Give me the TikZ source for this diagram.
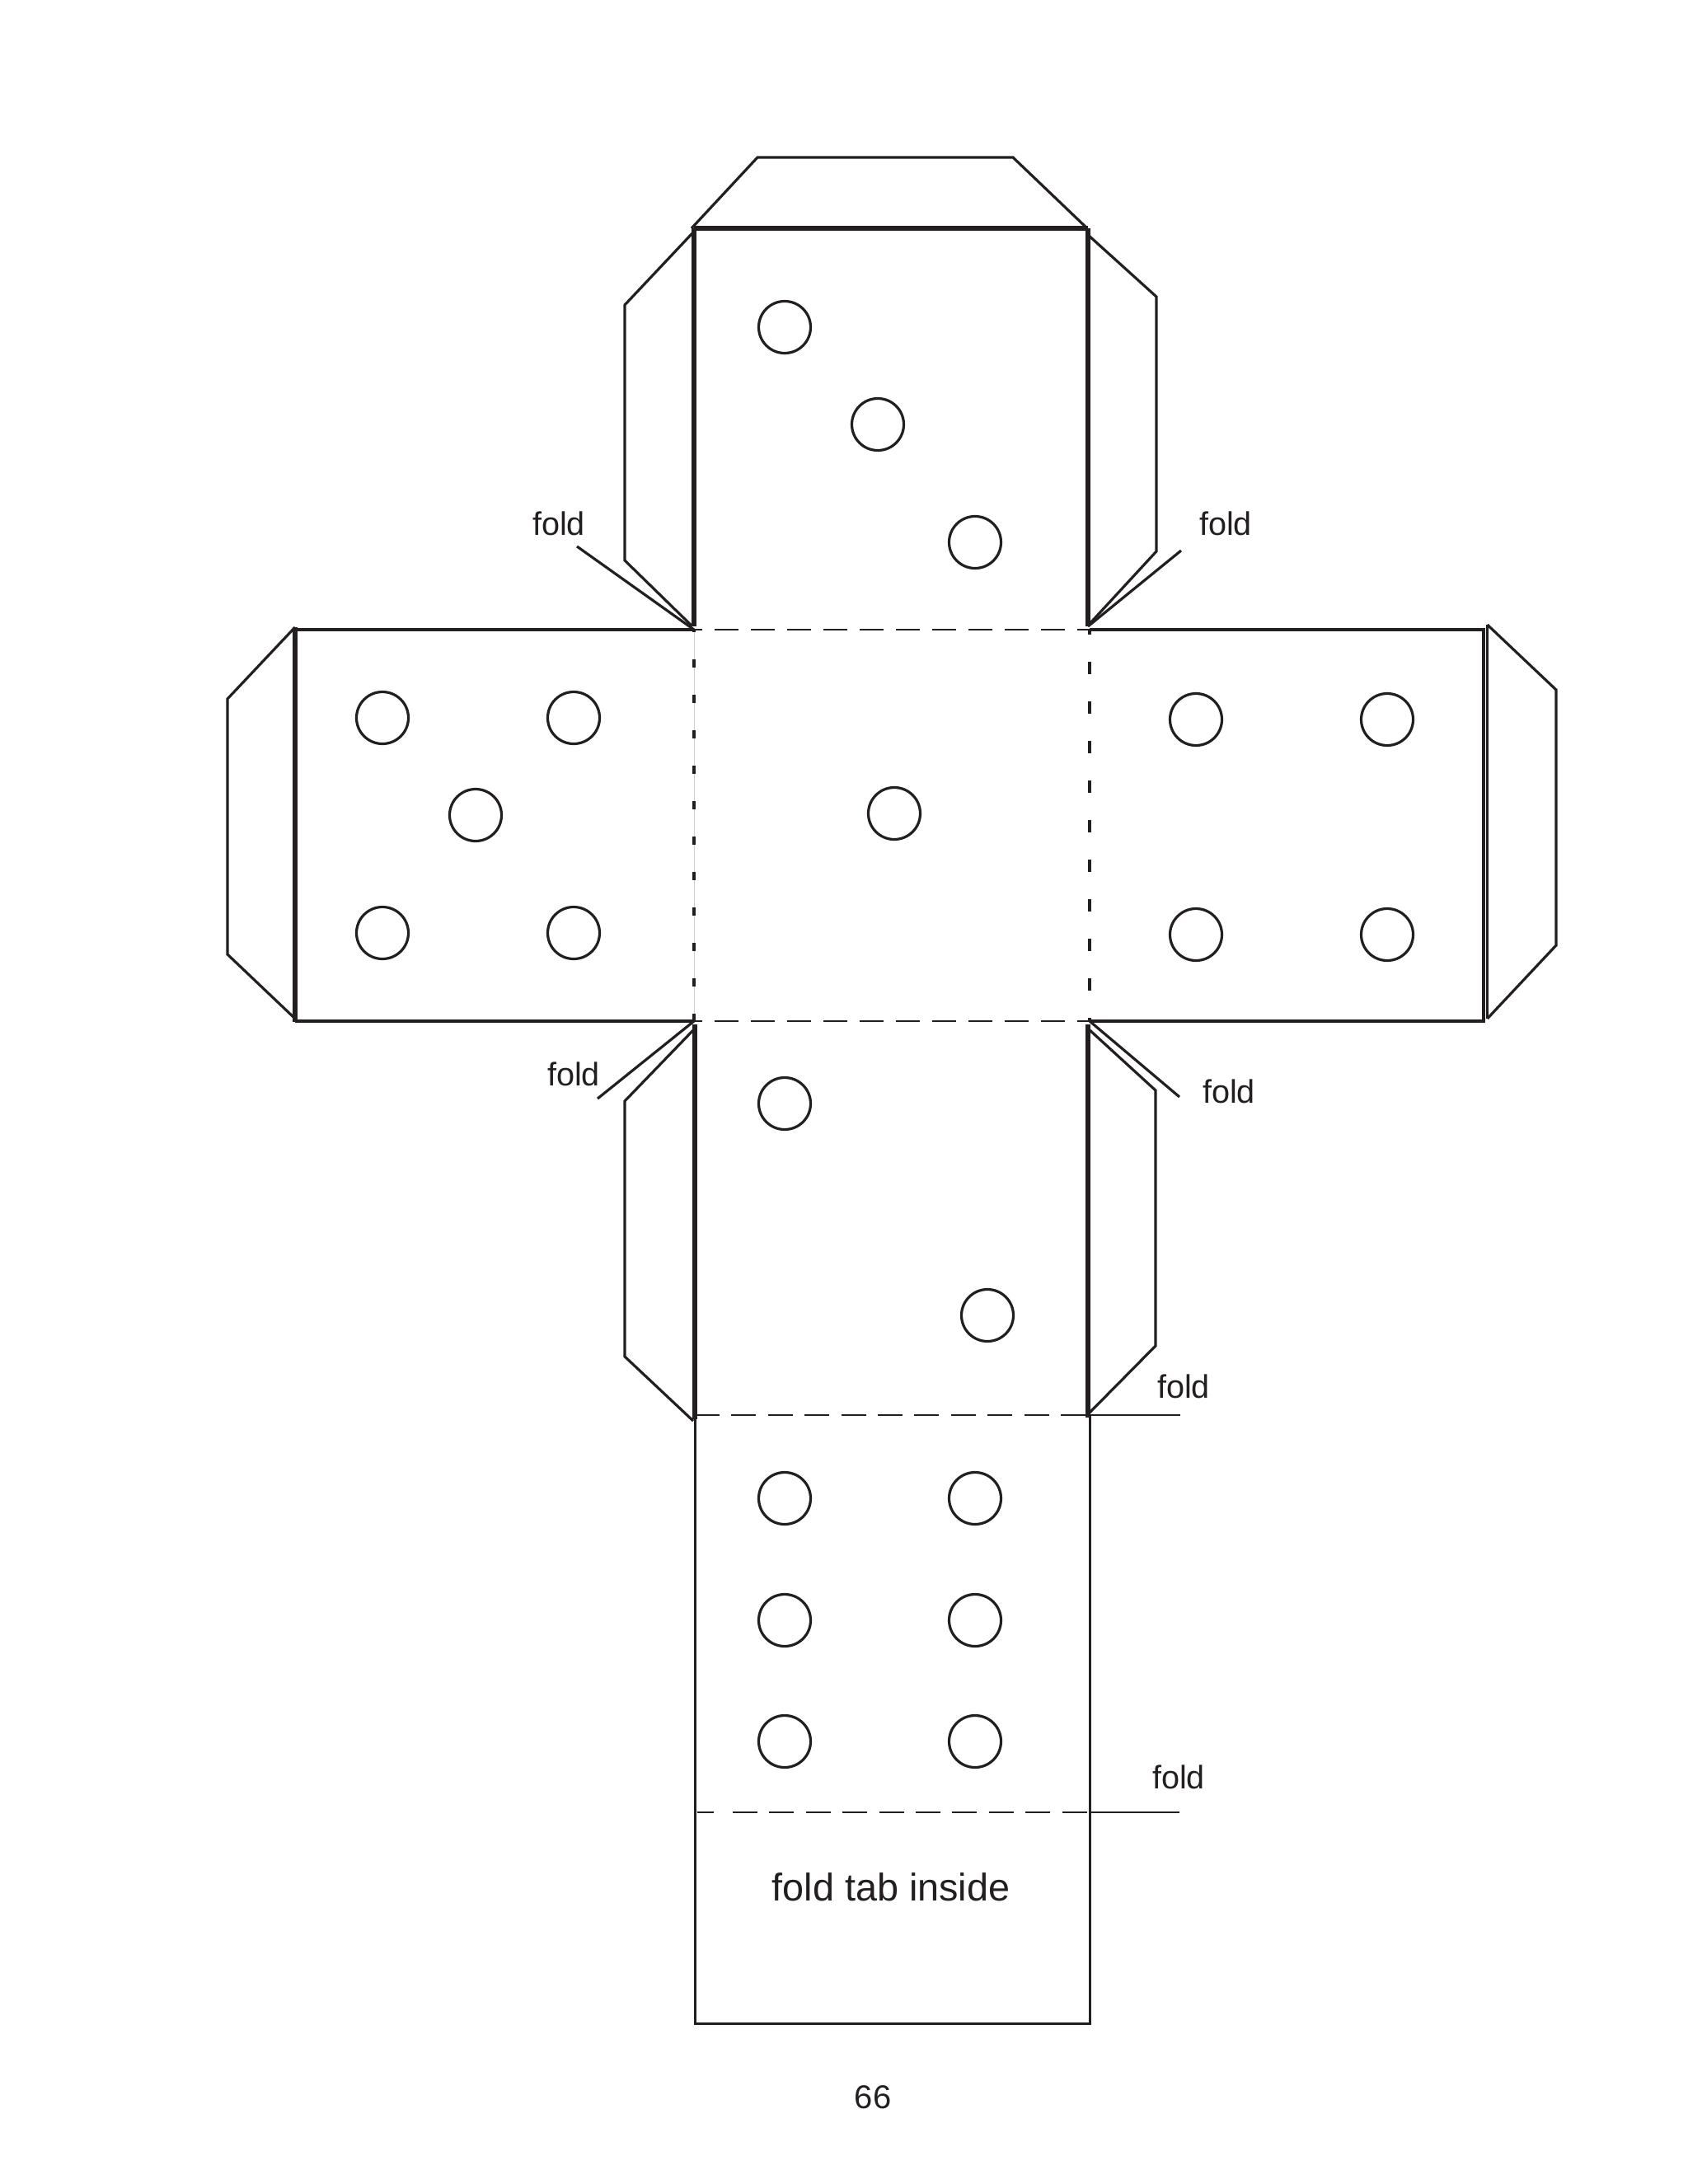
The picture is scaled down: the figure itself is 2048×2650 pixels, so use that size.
\documentclass[tikz,border=0pt]{standalone}
\usepackage{fontspec}
\setmainfont{Liberation Sans}
\definecolor{ink}{HTML}{231F20}
\tikzset{
  thin line/.style={draw=ink,line width=1.6pt,line join=miter},
  thick line/.style={draw=ink,line width=2.7pt},
  fold dash/.style={draw=ink,line width=1.45pt,dash pattern=on 14.5pt off 7.5pt,dash phase=9.5pt},
  low dash/.style={draw=ink,line width=1.45pt,dash pattern=on 15pt off 7.2pt},
  left dash/.style={draw=ink,line width=1.8pt,dash pattern=on 5pt off 16.5pt,dash phase=3.5pt},
  right dash/.style={draw=ink,line width=1.6pt,dash pattern=on 7.5pt off 16.5pt,dash phase=4.5pt},
  pip/.style={circle,draw=ink,line width=1.6pt,minimum size=31.5pt,inner sep=0pt},
  foldlabel/.style={text=ink,font=\fontsize{19.8pt}{22pt}\selectfont,inner sep=0pt},
}
\begin{document}
\begin{tikzpicture}[x=0.5pt,y=-0.5pt]
\useasboundingbox (0,0) rectangle (2048,2650);
% face corners
\coordinate (tl) at (842,277); \coordinate (tr) at (1320,277);
\coordinate (cl) at (842,764); \coordinate (cr) at (1322,764);
\coordinate (dl) at (842,1239); \coordinate (dr) at (1322,1239);
\coordinate (el) at (843,1717); \coordinate (er) at (1322,1717);
\coordinate (fl) at (889,2199); \coordinate (fr) at (1322,2199);
\coordinate (gl) at (843,2455); \coordinate (gr) at (1322,2455);
\coordinate (wl) at (358,764); \coordinate (wlb) at (358,1239);
\coordinate (wr) at (1800,764); \coordinate (wrb) at (1800,1239);
% top tab and face
\draw[thin line] (839,277) -- (919,191) -- (1229,191) -- (1319,277);
\draw[thick line] (tl) -- (1320,277);
\draw[thick line] (tl) -- (842,760);
\draw[thick line] (tr) -- (1320,760);
\draw[thin line] (840,283) -- (758,370) -- (758,680) -- (840,760);
\draw[thin line] (1320,285) -- (1403,360) -- (1403,669) -- (1320,759);
% left wing
\draw[thin line] (wl) -- (cl);
\draw[thin line] (wlb) -- (dl);
\draw[thick line] (358,761) -- (358,1240);
\draw[thin line] (358,761) -- (276,848) -- (276,1158) -- (357,1235);
% right wing
\draw[thin line] (cr) -- (wr) -- (wrb) -- (dr);
\draw[draw=ink,line width=1.9pt] (1804.5,758) -- (1804.5,1236);
\draw[thin line] (1804.5,758) -- (1888,837) -- (1888,1147) -- (1804.5,1236);
% centre fold lines
\draw[fold dash] (cl) -- (cr);
\draw[fold dash] (dl) -- (dr);
\draw[draw=ink!22,line width=0.5pt] (cl) -- (dl);
\draw[left dash] (cl) -- (dl);
\draw[right dash] (cr) -- (dr);
% lower face
\draw[thick line] (843,1243) -- (843,1722);
\draw[thick line] (1320,1243) -- (1320,1720);
\draw[thin line] (841,1250) -- (758,1336) -- (758,1646) -- (841,1724);
\draw[thin line] (1320,1248) -- (1402,1323) -- (1402,1633) -- (1320,1716);
\draw[low dash] (el) -- (er);
% last strip
\draw[draw=ink,line width=1.5pt] (el) -- (gl) -- (gr) -- (er);
\draw[low dash] (fl) -- (fr);
\draw[draw=ink,line width=1.45pt] (846,2199) -- (866,2199);
% leaders
\coordinate (la) at (700,663); \coordinate (lb) at (1433,668);
\coordinate (lc) at (725,1333); \coordinate (ld) at (1431,1331);
\coordinate (le) at (1432,1717); \coordinate (lf) at (1431,2199);
\draw[thin line] (la) -- (cl);
\draw[thin line] (lb) -- (1320,760);
\draw[thin line] (lc) -- (dl);
\draw[thin line] (ld) -- (dr);
\draw[draw=ink,line width=1.45pt] (le) -- (er);
\draw[draw=ink,line width=1.45pt] (lf) -- (fr);
% pips
\node[pip] (p3a) at (952,397) {};
\node[pip] (p3b) at (1065,515) {};
\node[pip] (p3c) at (1183,658) {};
\node[pip] (p5a) at (464,871) {};
\node[pip] (p5b) at (696,871) {};
\node[pip] (p5c) at (577,989) {};
\node[pip] (p5d) at (464,1132) {};
\node[pip] (p5e) at (696,1132) {};
\node[pip] (p1a) at (1085,987) {};
\node[pip] (p4a) at (1451,873) {};
\node[pip] (p4b) at (1683,873) {};
\node[pip] (p4c) at (1451,1134) {};
\node[pip] (p4d) at (1683,1134) {};
\node[pip] (p2a) at (952,1339) {};
\node[pip] (p2b) at (1198,1596) {};
\node[pip] (p6a) at (952,1818) {};
\node[pip] (p6b) at (1183,1818) {};
\node[pip] (p6c) at (952,1966) {};
\node[pip] (p6d) at (1183,1966) {};
\node[pip] (p6e) at (952,2113) {};
\node[pip] (p6f) at (1183,2113) {};
% labels
\node[foldlabel] (f1) at (678,635) {fold};
\node[foldlabel] (f2) at (1487,635) {fold};
\node[foldlabel] (f3) at (696,1303) {fold};
\node[foldlabel] (f4) at (1491,1324) {fold};
\node[foldlabel] (f5) at (1436,1682) {fold};
\node[foldlabel] (f6) at (1430,2156) {fold};
\node[text=ink,font=\fontsize{23.4pt}{26pt}\selectfont,inner sep=0pt] (tabtext) at (1081,2290) {fold tab inside};
\node[text=ink,font=\fontsize{20pt}{22pt}\selectfont,inner sep=0pt] (pagenum) at (1059,2545) {66};
\end{tikzpicture}
\end{document}
